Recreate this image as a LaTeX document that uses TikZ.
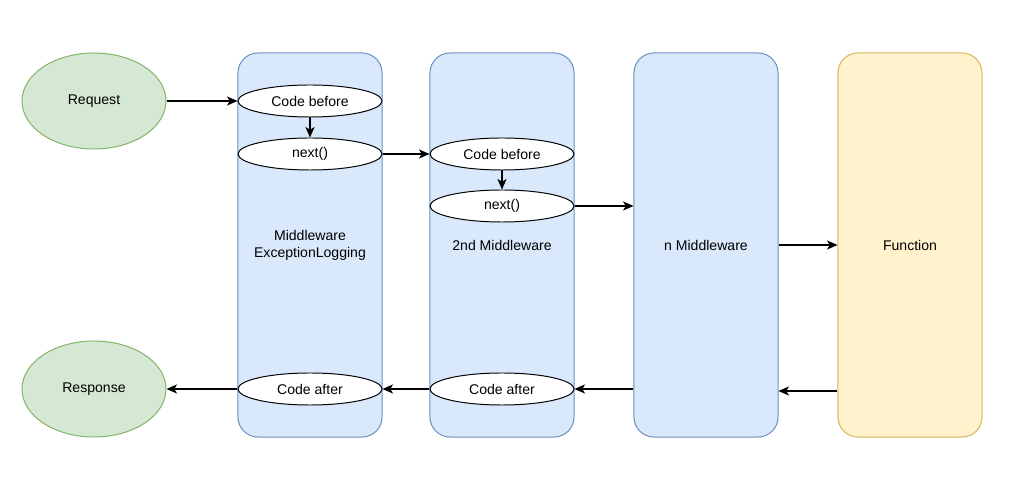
\documentclass[tikz,border=0pt]{standalone}
\usepackage{fontspec}
\setmainfont{Liberation Sans}
\usetikzlibrary{arrows.meta}
\usetikzlibrary{shapes.geometric}
\definecolor{mwfill}{HTML}{DAE8FC}
\definecolor{mwline}{HTML}{6C8EBF}
\definecolor{iofill}{HTML}{D5E8D4}
\definecolor{ioline}{HTML}{82B366}
\definecolor{fnfill}{HTML}{FFF2CC}
\definecolor{fnline}{HTML}{D6B656}
\tikzset{>={Stealth[length=7.5pt,width=6.5pt,inset=2pt]}}
\tikzset{
  every node/.style={font=\fontsize{10}{12}\selectfont},
  endpoint/.style={ellipse, draw=ioline, fill=iofill, line width=0.7pt,
    minimum width=3.6cm, minimum height=2.4cm, inner sep=0pt},
  layer/.style={rectangle, rounded corners=0.5cm, draw=mwline, fill=mwfill,
    line width=0.7pt, minimum width=3.6cm, minimum height=9.6cm, align=center},
  codestep/.style={ellipse, draw=black, fill=white, line width=0.7pt,
    minimum width=3.6cm, minimum height=0.8cm, inner sep=0pt},
  flow/.style={->, line width=0.75pt},
}
\begin{document}
\begin{tikzpicture}[x=0.025cm, y=-0.025cm]
	\useasboundingbox (0,0) rectangle (1015,497);
	
	% request / response
	\node[endpoint] (req) at (94,101) {Request};
	\node[endpoint] (resp) at (94,389) {Response};
	
	% middleware layers
	\node[layer] (mw1) at (310,245) {Middleware\\ExceptionLogging};
	\node[layer] (mw2) at (502,245) {2nd Middleware};
	\node[layer] (nmw) at (706,245) {n Middleware};
	\node[layer, draw=fnline, fill=fnfill] (func) at (910,245) {Function};
	
	% steps inside the layers
	\node[codestep] (cb1) at (310,101) {Code before};
	\node[codestep] (nx1) at (310,154) {next()};
	\node[codestep] (ca1) at (310,389) {Code after};
	\node[codestep] (cb2) at (502,154) {Code before};
	\node[codestep] (nx2) at (502,206) {next()};
	\node[codestep] (ca2) at (502,389) {Code after};
	
	% going in
	\draw[flow] (req) -- (cb1);
	\draw[flow] (cb1) -- (nx1);
	\draw[flow] (nx1) -- (cb2);
	\draw[flow] (cb2) -- (nx2);
	\draw[flow] (nx2.east) -- (nx2.east -| nmw.west);
	\draw[flow] (nmw) -- (func);
	
	% coming back
	\draw[flow] ([yshift=-0.05cm]func.west |- ca2) -- ([yshift=-0.05cm]nmw.east |- ca2);
	\draw[flow] (nmw.west |- ca2) -- (ca2);
	\draw[flow] (ca2) -- (ca1);
	\draw[flow] (ca1) -- (resp);
	
\end{tikzpicture}
\end{document}
